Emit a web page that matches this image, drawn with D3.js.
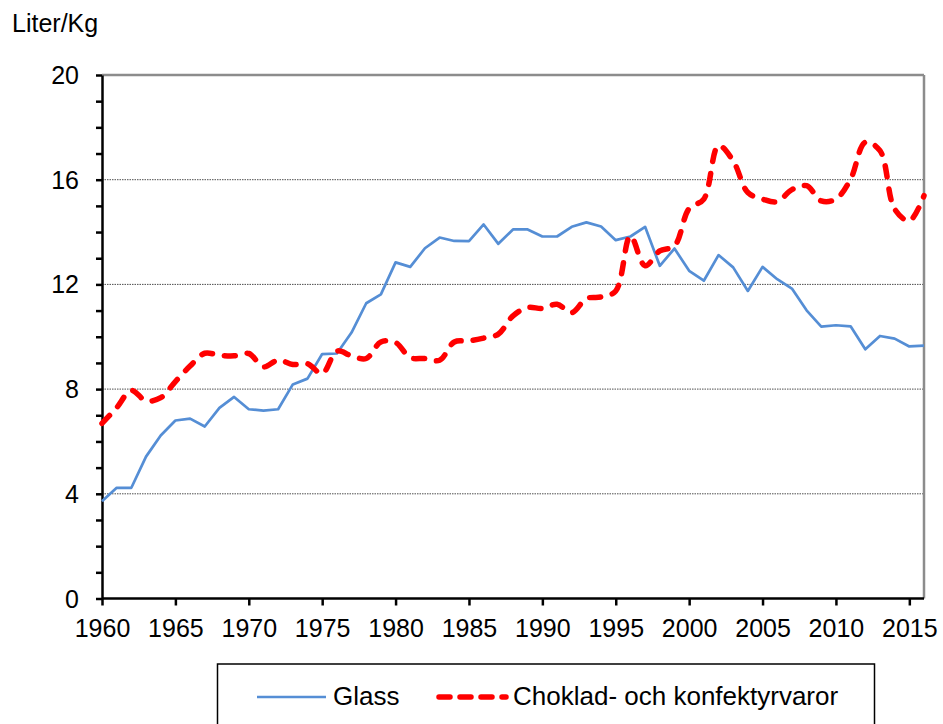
<!DOCTYPE html>
<html>
<head>
<meta charset="utf-8">
<script src="https://cdn.jsdelivr.net/npm/d3@7"></script>
<style>
  body { margin: 0; background: #fff; }
  svg { display: block; font-family: Arial, "Liberation Sans", sans-serif; }
</style>
</head>
<body>
<svg id="chart"></svg>
<script>
// Data (litres / kg per person and year)
const years = d3.range(1960, 2017);
const glass = [
  3.72, 4.23, 4.23, 5.42, 6.23, 6.80, 6.87, 6.57, 7.28, 7.70,
  7.23, 7.18, 7.23, 8.18, 8.40, 9.34, 9.36, 10.16, 11.28, 11.62,
  12.84, 12.67, 13.38, 13.79, 13.66, 13.65, 14.29, 13.55, 14.10, 14.10,
  13.83, 13.83, 14.20, 14.37, 14.21, 13.69, 13.83, 14.20, 12.71, 13.37,
  12.52, 12.14, 13.12, 12.65, 11.75, 12.67, 12.20, 11.84, 11.01, 10.39,
  10.44, 10.40, 9.52, 10.03, 9.93, 9.63, 9.66
];
const choklad = [
  6.69, 7.29, 7.95, 7.55, 7.67, 8.29, 8.88, 9.37, 9.29, 9.27,
  9.36, 8.85, 9.11, 8.94, 8.97, 8.59, 9.45, 9.27, 9.17, 9.80,
  9.78, 9.20, 9.17, 9.10, 9.80, 9.84, 9.95, 10.10, 10.80, 11.12,
  11.08, 11.24, 10.92, 11.46, 11.52, 11.75, 13.85, 12.71, 13.28, 13.47,
  14.90, 15.26, 17.30, 16.72, 15.51, 15.26, 15.16, 15.62, 15.77, 15.19,
  15.26, 16.02, 17.43, 17.11, 14.88, 14.43, 15.39
];
const yTicks = [0, 4, 8, 12, 16, 20];
const xTicks = d3.range(1960, 2016, 5);
const seriesNames = ['Glass', 'Choklad- och konfektyrvaror'];

const width = 943, height = 724;
const margin = { top: 75, right: 19, bottom: 125.5, left: 102 };
const innerW = width - margin.left - margin.right;
const innerH = height - margin.top - margin.bottom;

const svg = d3.select('#chart').attr('width', width).attr('height', height);
const g = svg.append('g').attr('transform', `translate(${margin.left},${margin.top})`);

const x = d3.scaleLinear().domain([1960, 2016]).range([0, innerW]);
const y = d3.scaleLinear().domain([0, 20]).range([innerH, 0]);

// dotted gridlines
g.selectAll('.grid')
  .data(yTicks.filter(v => v > 0 && v < 20))
  .join('line')
  .attr('x1', 0).attr('x2', innerW)
  .attr('y1', d => y(d)).attr('y2', d => y(d))
  .attr('stroke', '#4d4d4d')
  .attr('stroke-width', 1)
  .attr('stroke-dasharray', '1.5,1');

// top / right frame
g.append('line').attr('x1', 0).attr('x2', innerW).attr('y1', 0).attr('y2', 0)
  .attr('stroke', '#8c8c8c').attr('stroke-width', 2.5);
g.append('line').attr('x1', innerW).attr('x2', innerW).attr('y1', 0).attr('y2', innerH)
  .attr('stroke', '#8c8c8c').attr('stroke-width', 2.5);

// y axis: minor ticks each unit, labels every 4
const yAxis = g.append('g')
  .call(d3.axisLeft(y).tickValues(d3.range(0, 21)).tickSize(6).tickSizeOuter(0)
    .tickFormat(d => yTicks.includes(d) ? d : ''));
yAxis.selectAll('path, line').attr('stroke', '#000').attr('stroke-width', 2.5);
yAxis.selectAll('text').attr('font-size', 25).attr('fill', '#000')
  .attr('x', -23).attr('dy', '0.34em');

// x axis
const xAxis = g.append('g')
  .attr('transform', `translate(0,${innerH})`)
  .call(d3.axisBottom(x).tickValues(xTicks).tickSize(7).tickSizeOuter(0).tickFormat(d3.format('d')));
xAxis.selectAll('path, line').attr('stroke', '#000').attr('stroke-width', 2.5);
xAxis.selectAll('text').attr('font-size', 25).attr('fill', '#000')
  .attr('y', 21).attr('dy', '0.71em');
xAxis.select('.domain').attr('d', `M0,0H${innerW}`);

// lines
const glassLine = d3.line().x((d, i) => x(years[i])).y(d => y(d));
const chokLine = d3.line().x((d, i) => x(years[i])).y(d => y(d))
  .curve(d3.curveCatmullRom.alpha(0.5));

g.append('path')
  .datum(glass)
  .attr('d', glassLine)
  .attr('fill', 'none')
  .attr('stroke', '#558ED5')
  .attr('stroke-width', 2.7)
  .attr('stroke-linejoin', 'round');

g.append('path')
  .datum(choklad)
  .attr('d', chokLine)
  .attr('fill', 'none')
  .attr('stroke', '#FF0000')
  .attr('stroke-width', 5.5)
  .attr('stroke-linecap', 'round')
  .attr('stroke-dasharray', '11,12');

// unit label
svg.append('text')
  .attr('x', 12).attr('y', 32)
  .attr('font-size', 25)
  .attr('fill', '#000')
  .text('Liter/Kg');

// legend
const legend = svg.append('g');
legend.append('rect')
  .attr('x', 217.5).attr('y', 664)
  .attr('width', 657).attr('height', 80)
  .attr('fill', '#fff')
  .attr('stroke', '#000').attr('stroke-width', 1.5);

legend.append('line')
  .attr('x1', 257).attr('x2', 326).attr('y1', 697).attr('y2', 697)
  .attr('stroke', '#558ED5').attr('stroke-width', 2.7);
legend.append('text')
  .attr('x', 333).attr('y', 705)
  .attr('font-size', 26).attr('fill', '#000')
  .text(seriesNames[0]);

legend.append('line')
  .attr('x1', 439).attr('x2', 506).attr('y1', 697).attr('y2', 697)
  .attr('stroke', '#FF0000').attr('stroke-width', 5.5)
  .attr('stroke-linecap', 'round')
  .attr('stroke-dasharray', '11,10');
legend.append('text')
  .attr('x', 513).attr('y', 705)
  .attr('font-size', 26).attr('fill', '#000')
  .text(seriesNames[1]);
</script>
</body>
</html>
